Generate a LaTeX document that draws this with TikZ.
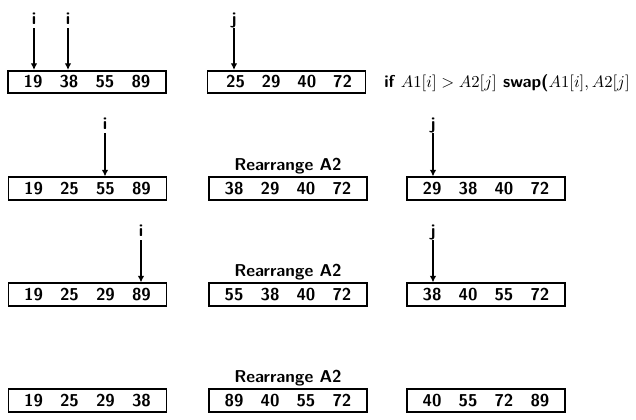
\documentclass[tikz,border=0pt]{standalone}
\usetikzlibrary{arrows.meta,positioning}

\newcommand{\cellrow}[5]{\makebox[#1]{#2}\makebox[#1]{#3}\makebox[#1]{#4}\makebox[#1]{#5}}

\begin{document}
\begin{tikzpicture}[
  x=0.6pt, y=-0.6pt,
  font=\fontsize{10.3}{12.5}\selectfont\sffamily\bfseries,
  arr/.style={draw, line width=0.95pt, inner sep=0pt, minimum height=13.5pt,
              minimum width=94.8pt},
  idx/.style={inner sep=1pt, text height=1.5ex, text depth=0.3ex},
  ptr/.style={-{Latex[length=4pt, width=4pt]}, line width=0.85pt},
  note/.style={inner sep=0pt},
]
\useasboundingbox (0,0) rectangle (636,420);

% step 1
\node[arr] (a1) at (87,82)    {\cellrow{21.6pt}{19}{38}{55}{89}};
\node[arr] (b1) at (286.5,82) {\hspace{3pt}\cellrow{21.4pt}{25}{29}{40}{72}};
\node[note, anchor=west] (rule) at (384,83)
  {if $A1[i] > A2[j]$ swap($A1[i], A2[j]$};

\node[idx] (i1a) at (34,20)  {i};
\node[idx] (i1b) at (68,20)  {i};
\node[idx] (j1)  at (234,20) {j};
\draw[ptr] (i1a) -- (i1a |- a1.north);
\draw[ptr] (i1b) -- (i1b |- a1.north);
\draw[ptr] (j1)  -- (j1 |- b1.north);

% step 2
\node[arr] (a2) at (87.5,188.5) {\cellrow{21.6pt}{19}{25}{55}{89}};
\node[arr] (b2) at (288,188.5)  {\cellrow{21.6pt}{38}{29}{40}{72}};
\node[arr] (c2) at (486,188.5)  {\cellrow{21.6pt}{29}{38}{40}{72}};
\node[note, above=1.5pt of b2] (r2) {Rearrange A2};

\node[idx] (i2) at (105,125) {i};
\node[idx] (j2) at (433,125) {j};
\draw[ptr] (i2) -- (i2 |- a2.north);
\draw[ptr] (j2) -- (j2 |- c2.north);

% step 3
\node[arr] (a3) at (87.5,294.5) {\cellrow{21.6pt}{19}{25}{29}{89}};
\node[arr] (b3) at (288,294.5)  {\cellrow{21.6pt}{55}{38}{40}{72}};
\node[arr] (c3) at (486,294.5)  {\cellrow{21.6pt}{38}{40}{55}{72}};
\node[note, above=1.5pt of b3] (r3) {Rearrange A2};

\node[idx] (i3) at (141,232) {i};
\node[idx] (j3) at (433,232) {j};
\draw[ptr] (i3) -- (i3 |- a3.north);
\draw[ptr] (j3) -- (j3 |- c3.north);

% step 4
\node[arr] (a4) at (87.5,400.5) {\cellrow{21.6pt}{19}{25}{29}{38}};
\node[arr] (b4) at (288,400.5)  {\cellrow{21.6pt}{89}{40}{55}{72}};
\node[arr] (c4) at (486,400.5)  {\cellrow{21.6pt}{40}{55}{72}{89}};
\node[note, above=1.5pt of b4] (r4) {Rearrange A2};

\end{tikzpicture}
\end{document}
